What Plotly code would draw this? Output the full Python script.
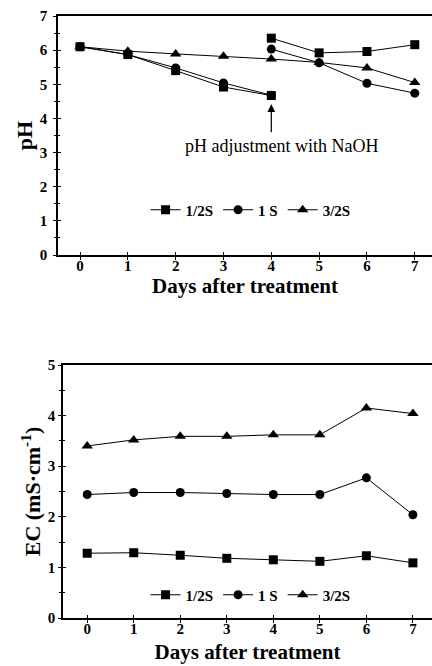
import plotly.graph_objects as go

days = [0, 1, 2, 3, 4, 5, 6, 7]
days_a = [0, 1, 2, 3, 4]
days_b = [4, 5, 6, 7]

ph_half_a = [6.10, 5.87, 5.40, 4.92, 4.67]
ph_half_b = [6.35, 5.92, 5.96, 6.16]
ph_one_a = [6.10, 5.87, 5.48, 5.04, 4.68]
ph_one_b = [6.03, 5.63, 5.03, 4.74]
ph_three = [6.10, 5.97, 5.89, 5.82, 5.74, 5.64, 5.48, 5.05]

ec_half = [1.28, 1.29, 1.24, 1.18, 1.15, 1.12, 1.23, 1.09]
ec_one = [2.44, 2.48, 2.48, 2.46, 2.44, 2.44, 2.77, 2.04]
ec_three = [3.40, 3.52, 3.59, 3.59, 3.62, 3.62, 4.15, 4.04]

names = ["1/2S", "1 S", "3/2S"]

W, H = 432, 666
SERIF = "Liberation Serif"
BLK = "black"

fig = go.Figure()

def add(x, y, sym, name, xa, ya, show, size=10, lg="legend"):
    fig.add_trace(go.Scatter(
        x=x, y=y, mode="lines+markers", name=name, showlegend=show,
        line=dict(color=BLK, width=1),
        marker=dict(symbol=sym, size=size, color=BLK),
        xaxis=xa, yaxis=ya, legend=lg, cliponaxis=False))

add(days_a, ph_half_a, "square", names[0], "x", "y", True, 9)
add(days_b, ph_half_b, "square", names[0], "x", "y", False, 9)
add(days_a, ph_one_a, "circle", names[1], "x", "y", True, 9)
add(days_b, ph_one_b, "circle", names[1], "x", "y", False, 9)
add(days, ph_three, "triangle-up", names[2], "x", "y", True, 10)

add(days, ec_half, "square", names[0], "x2", "y2", True, 9, "legend2")
add(days, ec_one, "circle", names[1], "x2", "y2", True, 9, "legend2")
add(days, ec_three, "triangle-up", names[2], "x2", "y2", True, 10, "legend2")

tickf = dict(family=SERIF, size=15, color=BLK, weight="bold")
titlef = dict(family=SERIF, size=21, color=BLK, weight="bold")

def xaxis(domain, rng, anchor, inside=False, tstand=0):
    d = dict(domain=domain, range=rng, anchor=anchor, tickvals=days,
             ticks="inside" if inside else "outside", ticklen=3, tickcolor=BLK,
             tickwidth=1.2, showgrid=False, zeroline=False, automargin=False)
    if inside:
        d.update(showticklabels=False, showline=False)
    else:
        d.update(showline=True, linecolor=BLK, linewidth=1.5, mirror=True,
                 tickfont=tickf, ticklabelstandoff=-7,
                 title=dict(text="Days after treatment", font=titlef, standoff=tstand))
    return d

def yaxis(domain, rng, anchor, title=None, inside=False, lstand=0):
    d = dict(domain=domain, range=rng, anchor=anchor, dtick=1,
             ticks="inside" if inside else "outside", ticklen=3, tickcolor=BLK,
             tickwidth=1.2, showgrid=False, zeroline=False, automargin=False,
             minor=dict(ticks="inside" if inside else "outside", ticklen=2,
                        tickcolor=BLK, dtick=0.5))
    if inside:
        d.update(showticklabels=False, showline=False)
    else:
        d.update(showline=True, linecolor=BLK, linewidth=1.5, tickfont=tickf,
                 ticklabelstandoff=lstand,
                 title=dict(text=title, font=dict(titlef, size=22), standoff=1))
    return d

dx1 = [58 / W, 1]
dy1 = [1 - 255 / H, 1 - 16 / H]
dx2 = [63 / W, 1]
dy2 = [1 - 618 / H, 1 - 365 / H]
rx1 = [-0.46, 7.36]
rx2 = [-0.52, 7.41]

x3 = xaxis(dx1, rx1, "y", inside=True); x3["overlaying"] = "x"
x4 = xaxis(dx2, rx2, "y2", inside=True); x4["overlaying"] = "x2"
y3 = yaxis(dy1, [0, 7], "x", inside=True); y3["overlaying"] = "y"
y4 = yaxis(dy2, [0, 5], "x2", inside=True); y4["overlaying"] = "y2"

fig.update_layout(
    width=W, height=H, margin=dict(l=0, r=0, t=0, b=0),
    paper_bgcolor="white", plot_bgcolor="white",
    xaxis=xaxis(dx1, rx1, "y", tstand=0),
    yaxis=yaxis(dy1, [0, 7], "x", "pH", lstand=3),
    xaxis2=xaxis(dx2, rx2, "y2", tstand=9),
    yaxis2=yaxis(dy2, [0, 5], "x2", "EC (mS·cm<sup>-1</sup>)", lstand=0),
    xaxis3=x3, xaxis4=x4, yaxis3=y3, yaxis4=y4,
    legend=dict(orientation="h", x=0.58, xanchor="center", y=1 - 210 / H,
                yanchor="middle", font=dict(family=SERIF, size=15, color=BLK, weight="bold"),
                bgcolor="rgba(0,0,0,0)", itemwidth=30, tracegroupgap=0),
    legend2=dict(orientation="h", x=0.58, xanchor="center", y=1 - 595 / H,
                 yanchor="middle", font=dict(family=SERIF, size=15, color=BLK, weight="bold"),
                 bgcolor="rgba(0,0,0,0)", itemwidth=30),
)

# invisible traces to activate overlay axes (crossing ticks)
fig.add_trace(go.Scatter(x=[None], y=[None], xaxis="x3", yaxis="y3", showlegend=False, hoverinfo="skip"))
fig.add_trace(go.Scatter(x=[None], y=[None], xaxis="x4", yaxis="y4", showlegend=False, hoverinfo="skip"))

fig.add_annotation(x=4, y=4.42, ax=4, ay=3.55, xref="x", yref="y", axref="x", ayref="y",
                   showarrow=True, arrowhead=2, arrowsize=1.3, arrowwidth=1.2,
                   arrowcolor=BLK, text="")
fig.add_annotation(x=4.22, y=3.2, xref="x", yref="y", showarrow=False,
                   text="pH adjustment with NaOH",
                   font=dict(family=SERIF, size=18, color=BLK))

fig.write_html("out.html", config={"displayModeBar": False},
               post_script="document.body.style.margin='0';")
